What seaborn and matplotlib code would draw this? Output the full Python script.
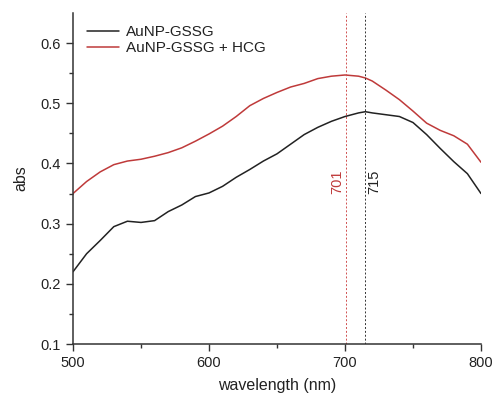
import numpy as np
import pandas as pd
import matplotlib
matplotlib.use("Agg")
import matplotlib.pyplot as plt
import seaborn as sns

wavelength = [500, 510, 520, 530, 540, 550, 560, 570, 580, 590, 600, 610, 620, 630, 640,
              650, 660, 670, 680, 690, 700, 710, 715, 720, 730, 740, 750, 760, 770, 780, 790, 800]
abs_gssg = [0.220, 0.250, 0.272, 0.295, 0.304, 0.302, 0.305, 0.320, 0.331, 0.345, 0.351,
            0.362, 0.377, 0.390, 0.404, 0.416, 0.432, 0.448, 0.460, 0.470, 0.478, 0.484,
            0.486, 0.484, 0.481, 0.478, 0.468, 0.448, 0.425, 0.403, 0.383, 0.350]
abs_gssg_hcg = [0.350, 0.370, 0.386, 0.398, 0.404, 0.407, 0.412, 0.418, 0.426, 0.437, 0.449,
                0.462, 0.478, 0.496, 0.508, 0.518, 0.527, 0.533, 0.541, 0.545, 0.547, 0.545,
                0.542, 0.537, 0.522, 0.506, 0.487, 0.467, 0.455, 0.446, 0.432, 0.402]
series_names = ["AuNP-GSSG", "AuNP-GSSG + HCG"]
peak_positions = [715, 701]
peak_labels = ["715", "701"]

line_colors = ["#222222", "#bf3a3a"]

sns.set_style("ticks")
plt.rcParams["font.family"] = ["Liberation Sans", "DejaVu Sans"]

df = pd.DataFrame({
    "wavelength": wavelength * 2,
    "abs": abs_gssg + abs_gssg_hcg,
    "sample": [series_names[0]] * len(wavelength) + [series_names[1]] * len(wavelength),
})

fig = plt.figure(figsize=(4.94, 3.94), dpi=100)
ax = fig.add_axes([73 / 494, 50 / 394, 408 / 494, 331 / 394])

sns.lineplot(data=df, x="wavelength", y="abs", hue="sample", palette=line_colors,
             linewidth=1.1, ax=ax)

vline_colors = ["#333333", "#d05050"]
for pos, c in zip(peak_positions, vline_colors):
    ax.axvline(pos, color=c, linestyle=(0, (2, 2)), linewidth=0.7)

ax.text(peak_positions[1] - 1.5, 0.37, peak_labels[1], rotation=90, color="#bf3a3a",
        ha="right", va="center", fontsize=10.5)
ax.text(peak_positions[0] + 1.5, 0.37, peak_labels[0], rotation=90, color="#222222",
        ha="left", va="center", fontsize=10.5)

ax.set_xlim(500, 800)
ax.set_ylim(0.1, 0.65)
ax.set_xticks([500, 600, 700, 800])
ax.set_xticks([550, 650, 750], minor=True)
ax.set_yticks([0.1, 0.2, 0.3, 0.4, 0.5, 0.6])
ax.set_yticks([0.15, 0.25, 0.35, 0.45, 0.55], minor=True)
ax.set_xlabel("wavelength (nm)", fontsize=11.5, color="#222222", labelpad=6)
ax.set_ylabel("abs", fontsize=11.5, color="#222222", labelpad=9)
ax.tick_params(axis="both", which="major", length=5, width=1, labelsize=10.5,
               colors="#333333", labelcolor="#222222")
ax.tick_params(axis="both", which="minor", length=3, width=1, colors="#333333")
for s in ["top", "right"]:
    ax.spines[s].set_visible(False)
for s in ["left", "bottom"]:
    ax.spines[s].set_linewidth(1.1)
    ax.spines[s].set_color("#333333")

leg = ax.legend(loc="upper left", frameon=False, fontsize=11, handlelength=2.1,
                handletextpad=0.45, bbox_to_anchor=(0.012, 0.99), borderaxespad=0.2,
                labelspacing=0.1)
for t in leg.get_texts():
    t.set_color("#222222")

fig.savefig("out.png", dpi=100)
